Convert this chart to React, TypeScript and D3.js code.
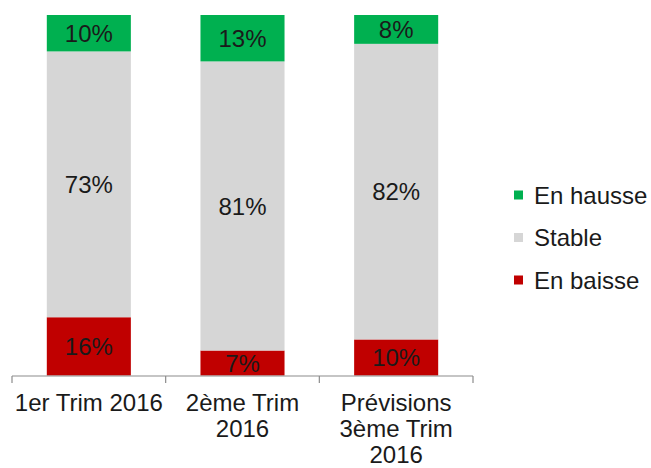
import React from "react";
import * as d3 from "d3";

const categories = ["1er Trim 2016", "2ème Trim 2016", "Prévisions 3ème Trim 2016"];
const categoryLines = [["1er Trim 2016"], ["2ème Trim", "2016"], ["Prévisions", "3ème Trim", "2016"]];
const seriesNames = ["En baisse", "Stable", "En hausse"];
const enBaisse = [16, 7, 10];
const stable = [73, 81, 82];
const enHausse = [10, 13, 8];
const colors = ["#C00000", "#D6D6D6", "#00B050"];
const legendOrder = ["En hausse", "Stable", "En baisse"];

const W = 651;
const H = 468;
const FONT = "Liberation Sans, Arial, sans-serif";

export default function App() {
  const rows = categories.map((c, i) => ({
    cat: c,
    "En baisse": enBaisse[i],
    Stable: stable[i],
    "En hausse": enHausse[i],
  }));
  const stack = d3.stack<any>().keys(seriesNames).offset(d3.stackOffsetExpand);
  const layers = stack(rows);

  const x = d3.scaleBand().domain(categories).range([12, 473]).paddingInner(0.453).paddingOuter(0.2265);
  const y = d3.scaleLinear().domain([0, 1]).range([375.5, 15]);
  const step = x.step();
  const x0 = x.range()[0];
  const tickXs = d3.range(categories.length + 1).map((i) => x0 + i * step);

  return (
    <div style={{ position: "fixed", left: 0, top: 0 }}>
      <svg width={W} height={H} style={{ display: "block", background: "#fff" }} fontFamily={FONT}>
        {layers.map((layer, li) => (
          <g key={layer.key}>
            {layer.map((d, i) => {
              const y0 = y(d[0]);
              const y1 = y(d[1]);
              return (
                <g key={i}>
                  <rect x={x(categories[i])} y={y1} width={x.bandwidth()} height={y0 - y1} fill={colors[li]} />
                  <text
                    x={(x(categories[i]) as number) + x.bandwidth() / 2}
                    y={(y0 + y1) / 2}
                    dy="0.36em"
                    textAnchor="middle"
                    fontSize={24}
                    fill="#1a1a1a"
                  >
                    {(d.data as any)[layer.key]}%
                  </text>
                </g>
              );
            })}
          </g>
        ))}
        <line x1={tickXs[0]} x2={tickXs[tickXs.length - 1]} y1={376} y2={376} stroke="#8c8c8c" strokeWidth={1.2} />
        {tickXs.map((tx, i) => (
          <line key={i} x1={tx} x2={tx} y1={376} y2={383} stroke="#8c8c8c" strokeWidth={1.2} />
        ))}
        {categoryLines.map((lines, i) => (
          <text
            key={i}
            x={(x(categories[i]) as number) + x.bandwidth() / 2}
            y={411}
            textAnchor="middle"
            fontSize={24}
            fill="#1a1a1a"
          >
            {lines.map((l, j) => (
              <tspan key={j} x={(x(categories[i]) as number) + x.bandwidth() / 2} dy={j === 0 ? 0 : 26}>
                {l}
              </tspan>
            ))}
          </text>
        ))}
        {legendOrder.map((name, i) => {
          const cy = 195 + i * 42.5;
          const ci = seriesNames.indexOf(name);
          return (
            <g key={name}>
              <rect x={514} y={cy - 4.5} width={9} height={9} fill={colors[ci]} />
              <text x={534} y={cy} dy="0.36em" fontSize={24} fill="#1a1a1a">
                {name}
              </text>
            </g>
          );
        })}
      </svg>
    </div>
  );
}
